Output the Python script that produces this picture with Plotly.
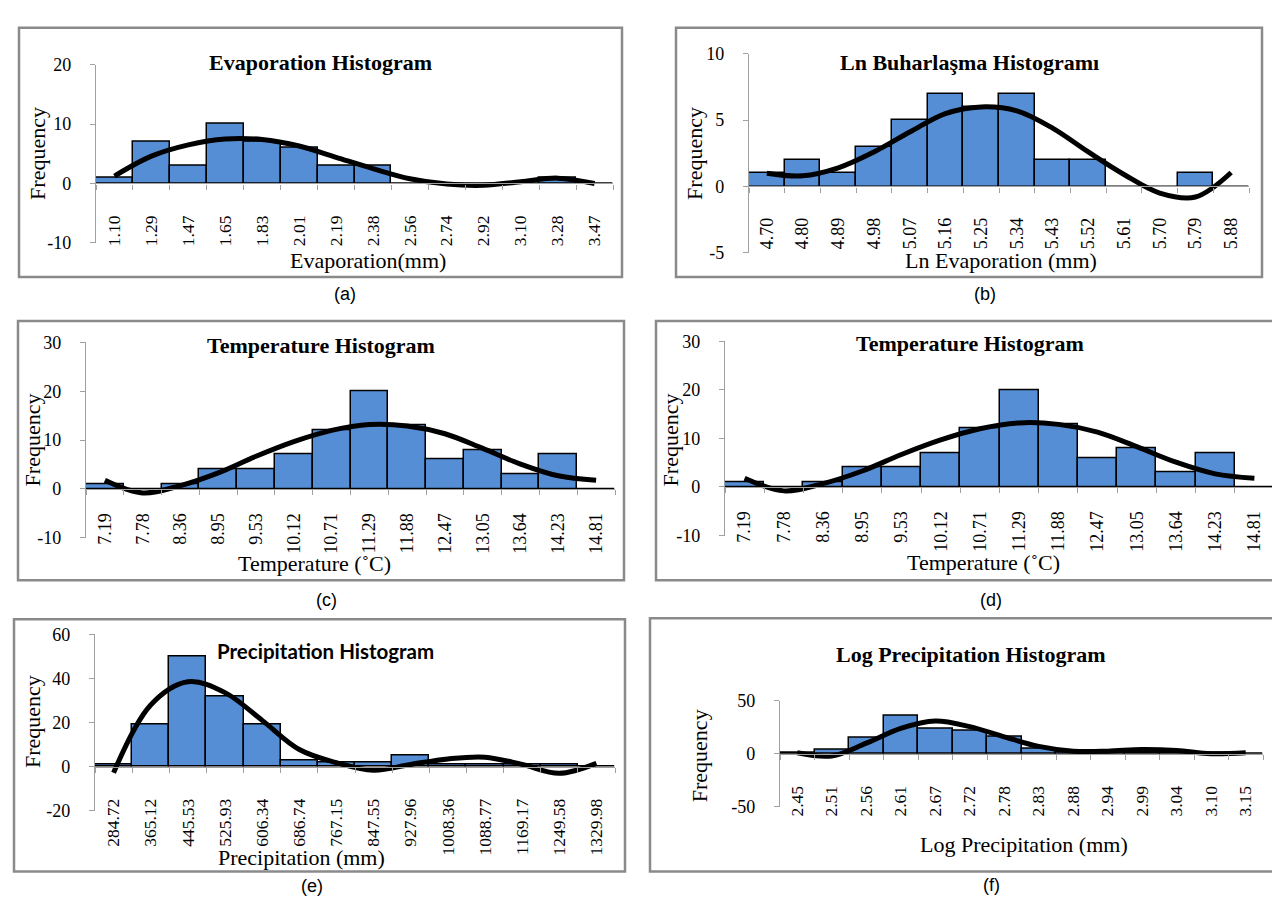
import plotly.graph_objects as go

# ---------------- data ----------------
evap_labels = ["1.10","1.29","1.47","1.65","1.83","2.01","2.19","2.38","2.56","2.74","2.92","3.10","3.28","3.47"]
evap_freq   = [1, 7, 3, 10, 7, 6, 3, 3, 0, 0, 0, 0, 1, 0]
evap_curve  = [1.25, 4.6, 6.5, 7.5, 7.4, 6.3, 4.4, 2.5, 0.8, -0.1, -0.3, 0.3, 0.9, 0.0]

lnevap_labels = ["4.70","4.80","4.89","4.98","5.07","5.16","5.25","5.34","5.43","5.52","5.61","5.70","5.79","5.88"]
lnevap_freq   = [1, 2, 1, 3, 5, 7, 6, 7, 2, 2, 0, 0, 1, 0]
lnevap_curve  = [1.0, 0.8, 1.4, 2.6, 4.1, 5.5, 6.0, 5.7, 4.4, 2.6, 0.9, -0.5, -0.8, 1.05]

temp_labels = ["7.19","7.78","8.36","8.95","9.53","10.12","10.71","11.29","11.88","12.47","13.05","13.64","14.23","14.81"]
temp_freq   = [1, 0, 1, 4, 4, 7, 12, 20, 13, 6, 8, 3, 7, 0]
temp_curve  = [1.8, -0.8, 0.7, 3.3, 6.7, 9.7, 12.0, 13.2, 12.9, 11.3, 8.3, 5.1, 2.7, 1.8]

prec_labels = ["284.72","365.12","445.53","525.93","606.34","686.74","767.15","847.55","927.96","1008.36","1088.77","1169.17","1249.58","1329.98"]
prec_freq   = [1, 19, 50, 32, 19, 3, 2, 2, 5, 1, 1, 1, 1, 0]
prec_curve  = [-2.8, 28, 38.5, 33.6, 21, 7.8, 1.8, -1.6, 1.0, 3.5, 4.3, 1.0, -3.0, 1.5]

logp_labels = ["2.45","2.51","2.56","2.61","2.67","2.72","2.78","2.83","2.88","2.94","2.99","3.04","3.10","3.15"]
logp_freq   = [1, 4, 15, 36, 24, 22, 16, 5, 2, 1, 1, 1, 1, 0]
logp_curve  = [1.0, -2.0, 10, 24, 31, 25.6, 16, 7, 2.5, 2.5, 4.0, 3.0, 0.0, 1.0]

panels = [
    dict(labels=evap_labels, freq=evap_freq, curve=evap_curve,
         title="Evaporation Histogram", xtitle="Evaporation(mm)", tag="(a)",
         yticks=[-10, 0, 10, 20]),
    dict(labels=lnevap_labels, freq=lnevap_freq, curve=lnevap_curve,
         title="Ln Buharlaşma Histogramı", xtitle="Ln Evaporation (mm)", tag="(b)",
         yticks=[-5, 0, 5, 10]),
    dict(labels=temp_labels, freq=temp_freq, curve=temp_curve,
         title="Temperature Histogram", xtitle="Temperature (˚C)", tag="(c)",
         yticks=[-10, 0, 10, 20, 30]),
    dict(labels=temp_labels, freq=temp_freq, curve=temp_curve,
         title="Temperature Histogram", xtitle="Temperature (˚C)", tag="(d)",
         yticks=[-10, 0, 10, 20, 30]),
    dict(labels=prec_labels, freq=prec_freq, curve=prec_curve,
         title="Precipitation Histogram", xtitle="Precipitation (mm)", tag="(e)",
         yticks=[-20, 0, 20, 40, 60]),
    dict(labels=logp_labels, freq=logp_freq, curve=logp_curve,
         title="Log Precipitation Histogram", xtitle="Log Precipitation (mm)", tag="(f)",
         yticks=[-50, 0, 50]),
]

# ---------------- layout geometry (pixels) ----------------
geom = [
    dict(frame=(11, 10, 614, 265), plot=(88, 605, 47.7, 230), title=(312, 46), xt=(360, 248), yt=(30, 139), tag=(337, 282), gap=24, tick=17.5, tfont="Liberation Serif"),
    dict(frame=(668, 10, 1254, 265), plot=(741, 1241, 36.7, 240), title=(961, 46), xt=(993, 248), yt=(687, 139), tag=(977, 282), gap=23, tick=18, tfont="Liberation Serif"),
    dict(frame=(10, 310, 616, 575), plot=(78, 607, 331.7, 531.7), title=(313, 335), xt=(306, 558), yt=(24, 432), tag=(318, 595), gap=16, tick=18, tfont="Liberation Serif"),
    dict(frame=(648, 310, 1277, 575), plot=(717, 1266, 330.7, 529.3), title=(962, 333), xt=(975, 557), yt=(662, 432), tag=(983, 595), gap=16, tick=18, tfont="Liberation Serif"),
    dict(frame=(6, 615, 617, 873), plot=(87, 607, 630.5, 810.7), title=(317, 647), xt=(293, 859), yt=(24, 720), tag=(304, 888), gap=24, tick=17.5, tfont="Lato"),
    dict(frame=(642, 614, 1279, 873), plot=(772, 1255, 698.3, 806.7), title=(963, 651), xt=(1016, 845), yt=(691, 755), tag=(983, 887), gap=24, tick=17.5, tfont="Liberation Serif"),
]

W, H = 1280, 900
SERIF = "Liberation Serif"
AXIS_GRAY = "#a0a0a0"
BAR_BLUE = "#558ED5"

fig = go.Figure()
shapes, annotations = [], []
layout_axes = {}

for i, (p, g) in enumerate(zip(panels, geom), start=1):
    xa = "x" if i == 1 else f"x{i}"
    ya = "y" if i == 1 else f"y{i}"
    n = len(p["labels"])
    xs = list(range(n))
    ymin, ymax = min(p["yticks"]), max(p["yticks"])

    fig.add_trace(go.Bar(x=xs, y=p["freq"], width=1.0, xaxis=xa, yaxis=ya,
                         marker=dict(color=BAR_BLUE, line=dict(color="black", width=1.5)),
                         showlegend=False, hoverinfo="skip"))
    fig.add_trace(go.Scatter(x=xs, y=p["curve"], mode="lines", xaxis=xa, yaxis=ya,
                             line=dict(color="black", width=5, shape="spline", smoothing=1.0),
                             showlegend=False, hoverinfo="skip"))

    px0, px1, py_top, py_bot = g["plot"]
    ydom = [1 - py_bot / H, 1 - py_top / H]
    xdom = [px0 / W, px1 / W]
    zero_frac = ydom[0] + (0 - ymin) / (ymax - ymin) * (ydom[1] - ydom[0])

    key = "" if i == 1 else str(i)
    layout_axes["xaxis" + key] = dict(
        domain=xdom, anchor="free", position=zero_frac,
        range=[-0.5, n - 0.5], showgrid=False, zeroline=False,
        showline=True, linecolor=AXIS_GRAY, linewidth=1.2,
        tickmode="array", tickvals=xs, ticktext=p["labels"],
        ticks="", tickangle=-90, ticklabelstandoff=g["gap"],
        tickfont=dict(family=SERIF, size=g["tick"], color="black"),
        minor=dict(tickmode="array", tickvals=[k - 0.5 for k in range(n + 1)],
                   ticks="outside", ticklen=5, tickcolor=AXIS_GRAY, tickwidth=1.2, showgrid=False),
        fixedrange=True,
    )
    layout_axes["yaxis" + key] = dict(
        domain=ydom, anchor=xa, range=[ymin, ymax],
        showgrid=False, zeroline=False, showline=True,
        linecolor=AXIS_GRAY, linewidth=1.2,
        tickmode="array", tickvals=p["yticks"], ticktext=[str(v) for v in p["yticks"]],
        ticks="outside", ticklen=5, tickcolor=AXIS_GRAY, tickwidth=1.2,
        ticklabelstandoff=15,
        tickfont=dict(family=SERIF, size=18, color="black"),
        fixedrange=True,
    )

    fx0, fy0, fx1, fy1 = g["frame"]
    shapes.append(dict(type="rect", xref="paper", yref="paper",
                       x0=fx0 / W, x1=fx1 / W, y0=1 - fy1 / H, y1=1 - fy0 / H,
                       line=dict(color="#8a8a8a", width=2.5), fillcolor="rgba(0,0,0,0)", layer="below"))

    tx, ty = g["title"]
    annotations.append(dict(text="<b>" + p["title"] + "</b>", x=tx / W, y=1 - ty / H, xref="paper", yref="paper",
                            showarrow=False, xanchor="center", yanchor="middle",
                            font=dict(family=g["tfont"], size=22 if g["tfont"] == SERIF else 20.5, color="black")))
    ax_, ay_ = g["xt"]
    annotations.append(dict(text=p["xtitle"], x=ax_ / W, y=1 - ay_ / H, xref="paper", yref="paper",
                            showarrow=False, xanchor="center", yanchor="middle",
                            font=dict(family=SERIF, size=22, color="black")))
    yx, yy = g["yt"]
    annotations.append(dict(text="Frequency", x=yx / W, y=1 - yy / H, xref="paper", yref="paper",
                            showarrow=False, xanchor="center", yanchor="middle", textangle=-90,
                            font=dict(family=SERIF, size=22, color="black")))
    lx, ly = g["tag"]
    annotations.append(dict(text=p["tag"], x=lx / W, y=1 - ly / H, xref="paper", yref="paper",
                            showarrow=False, xanchor="center", yanchor="middle",
                            font=dict(family="Liberation Sans", size=18, color="black")))

fig.update_layout(
    width=W, height=H, margin=dict(l=0, r=0, t=0, b=0),
    paper_bgcolor="white", plot_bgcolor="rgba(0,0,0,0)",
    showlegend=False, bargap=0, shapes=shapes, annotations=annotations,
    **layout_axes,
)

fig.write_html("out.html")
